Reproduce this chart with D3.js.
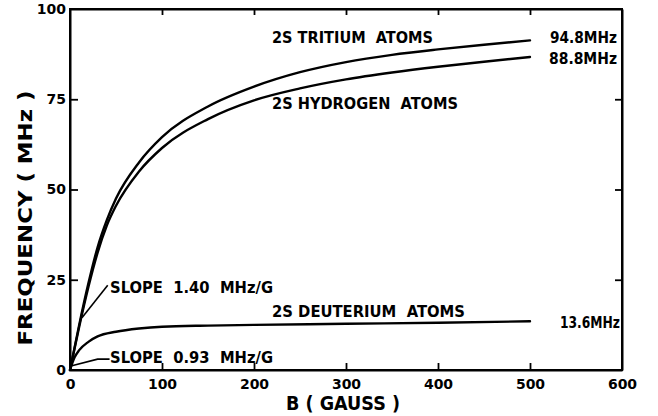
<!DOCTYPE html>
<html>
<head>
<meta charset="utf-8">
<script src="https://cdn.jsdelivr.net/npm/d3@7"></script>
<style>
  html, body { margin: 0; padding: 0; background: #fff; }
  svg { display: block; }
  text { font-family: "DejaVu Sans", "Liberation Sans", sans-serif; fill: #000; }
</style>
</head>
<body>
<svg id="chart" width="658" height="416"></svg>
<script>
// ---- data ----
const xTicks = [0, 100, 200, 300, 400, 500, 600];
const yTicks = [0, 25, 50, 75, 100];

const tritiumB = [0, 10, 20, 30, 40, 50, 75, 100, 150, 200, 250, 300, 350, 400, 450, 500];
const tritiumF = [0, 12.5, 24, 34, 41.5, 47.5, 57.5, 64.5, 73, 78.5, 82.5, 85.3, 87.3, 88.8, 90.1, 91.3];

const hydrogenB = [0, 10, 20, 30, 40, 50, 75, 100, 150, 200, 250, 300, 350, 400, 450, 500];
const hydrogenF = [0, 12, 23, 32.5, 40, 45.5, 55, 61.5, 69.5, 74.7, 78, 80.5, 82.4, 84, 85.4, 86.7];

const deuteriumB = [0, 5, 10, 20, 30, 50, 75, 100, 150, 200, 300, 400, 500];
const deuteriumF = [0, 3.5, 5.5, 7.8, 9.3, 10.6, 11.5, 12, 12.3, 12.5, 12.8, 13.1, 13.5];

const seriesNames = ["2S TRITIUM  ATOMS", "2S HYDROGEN  ATOMS", "2S DEUTERIUM  ATOMS"];
const endLabels = ["94.8MHz", "88.8MHz", "13.6MHz"];
const slopeLabels = ["SLOPE  1.40  MHz/G", "SLOPE  0.93  MHz/G"];
const xTitle = "B ( GAUSS )";
const yTitle = "FREQUENCY ( MHz )";

// ---- chart ----
const svg = d3.select("#chart");
const x = d3.scaleLinear().domain([0, 600]).range([70, 622]);
const y = d3.scaleLinear().domain([0, 100]).range([370, 9]);

// frame
svg.append("rect")
  .attr("x", x(0)).attr("y", y(100))
  .attr("width", x(600) - x(0)).attr("height", y(0) - y(100))
  .attr("fill", "none").attr("stroke", "#000").attr("stroke-width", 2);

function styleAxis(g) {
  g.select(".domain").attr("stroke", "#000").attr("stroke-width", 2);
  g.selectAll(".tick line").attr("stroke", "#000").attr("stroke-width", 1.8);
  g.selectAll(".tick text")
    .attr("font-size", 14).attr("font-weight", "bold")
    .style("font-family", "'DejaVu Sans', sans-serif");
}

// bottom axis
svg.append("g").attr("transform", `translate(0,${y(0)})`)
  .call(d3.axisBottom(x).tickValues(xTicks).tickFormat(d3.format("d"))
    .tickSizeInner(-7).tickSizeOuter(0).tickPadding(9))
  .call(styleAxis)
  .call(g => g.selectAll(".tick line").filter(d => d === 0 || d === 600).remove());

// top axis (ticks only)
svg.append("g").attr("transform", `translate(0,${y(100)})`)
  .call(d3.axisTop(x).tickValues(xTicks.filter(d => d > 0 && d < 600))
    .tickSizeInner(-6).tickSizeOuter(0).tickFormat(""))
  .call(styleAxis);

// left axis
svg.append("g").attr("transform", `translate(${x(0)},0)`)
  .call(d3.axisLeft(y).tickValues(yTicks).tickFormat(d3.format("d"))
    .tickSizeInner(-8).tickSizeOuter(0).tickPadding(4))
  .call(styleAxis)
  .call(g => g.selectAll(".tick line").filter(d => d === 0 || d === 100).remove());

// right axis (ticks only)
svg.append("g").attr("transform", `translate(${x(600)},0)`)
  .call(d3.axisRight(y).tickValues(yTicks.filter(d => d > 0 && d < 100))
    .tickSizeInner(-7).tickSizeOuter(0).tickFormat(""))
  .call(styleAxis);

// curves
const line = d3.line().x(d => x(d[0])).y(d => y(d[1])).curve(d3.curveMonotoneX);
const series = [
  d3.zip(tritiumB, tritiumF),
  d3.zip(hydrogenB, hydrogenF),
  d3.zip(deuteriumB, deuteriumF)
];
svg.append("g").selectAll("path").data(series).join("path")
  .attr("d", line)
  .attr("fill", "none").attr("stroke", "#000")
  .attr("stroke-width", 2.4).attr("stroke-linejoin", "round").attr("stroke-linecap", "round");

// labels
function label(txt, xp, yp, size, len, anchor) {
  const t = svg.append("text").attr("x", xp).attr("y", yp)
    .attr("font-size", size).attr("font-weight", "bold")
    .attr("text-anchor", anchor || "start")
    .style("white-space", "pre")
    .text(txt);
  if (len) t.attr("textLength", len).attr("lengthAdjust", "spacingAndGlyphs");
  return t;
}
label(seriesNames[0], 272, 43, 16, 161);
label(seriesNames[1], 272, 109, 16, 186);
label(seriesNames[2], 272, 317, 16, 193);
label(endLabels[0], 550, 43, 16, 67);
label(endLabels[1], 549, 64, 16, 68);
label(endLabels[2], 560, 328, 16, 60);
label(slopeLabels[0], 110, 293, 15, 163);
label(slopeLabels[1], 110, 363, 15, 163);

// leader lines for slope labels
svg.append("path")
  .attr("d", `M${x(41)},${y(23.5)} L${x(13)},${y(14.5)}`)
  .attr("fill", "none").attr("stroke", "#000").attr("stroke-width", 1.6);
svg.append("path")
  .attr("d", `M${x(43)},${y(3)} L${x(30)},${y(3)} L${x(2)},${y(1.2)}`)
  .attr("fill", "none").attr("stroke", "#000").attr("stroke-width", 1.6);

// axis titles
label(xTitle, 343, 410, 20, 114, "middle");
svg.append("text")
  .attr("transform", "translate(32,218) rotate(-90)")
  .attr("text-anchor", "middle")
  .attr("font-size", 20).attr("font-weight", "bold")
  .attr("textLength", 255).attr("lengthAdjust", "spacingAndGlyphs")
  .style("white-space", "pre")
  .text(yTitle);
</script>
</body>
</html>
